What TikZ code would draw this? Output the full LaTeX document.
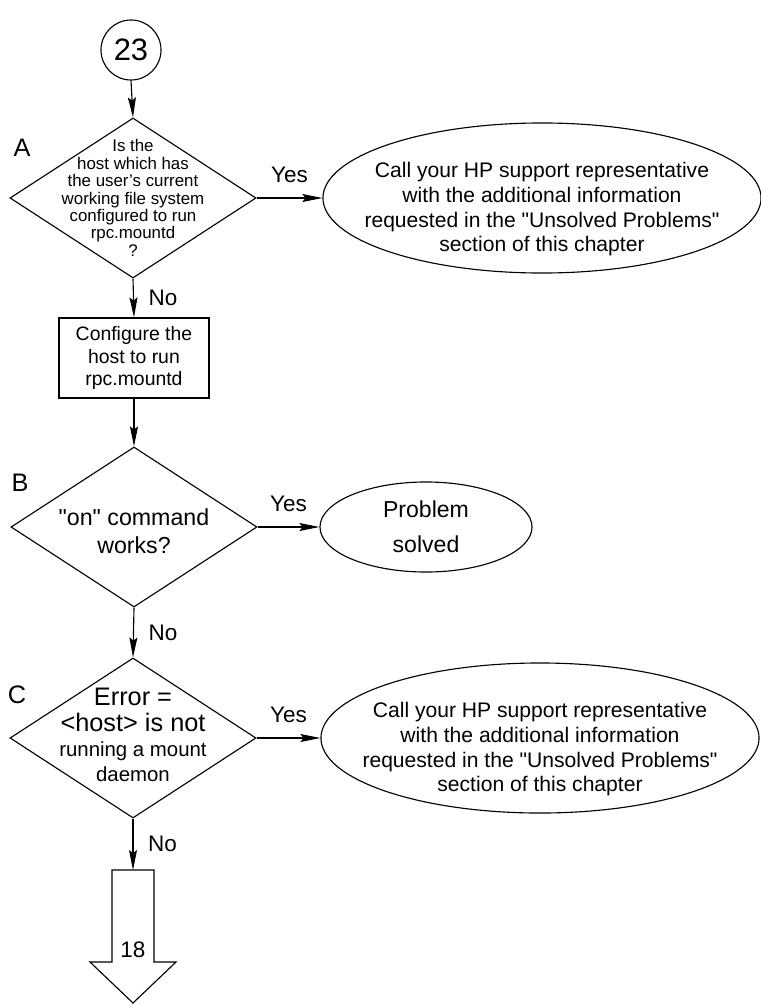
\documentclass[tikz,border=0pt]{standalone}
\usepackage{fontspec}
\setmainfont{Liberation Sans}
\usetikzlibrary{shapes.geometric,arrows.meta}

\begin{document}
\begin{tikzpicture}[x=0.025cm,y=-0.025cm,line width=0.8pt,
    flow/.style={-{Stealth[length=0.5cm,width=0.2cm,inset=0.08cm]}},
    decision/.style={draw,diamond,minimum width=6.15cm,minimum height=4cm,inner sep=0pt},
    answer/.style={draw,ellipse,inner sep=0pt},
    tag/.style={font=\fontsize{16}{18}\selectfont},
    letter/.style={font=\fontsize{18}{20}\selectfont}
    ]
    \useasboundingbox (0,0) rectangle (761,1005);

    % entry point
    \node[draw,circle,minimum size=1.5cm,inner sep=0pt,font=\fontsize{22}{24}\selectfont] (c23) at (131,50) {23};

    % step A
    \node[decision] (qA) at (133,198) {};
    \node[align=center,font=\fontsize{12}{12.4}\selectfont] (tA) at (qA) {Is the\\host which has\\the user's current\\working file system\\configured to run\\rpc.mountd\\?};
    \node[letter] (lA) at (22,148) {A};
    \node[answer,minimum width=10.95cm,minimum height=3.75cm] (callA) at (542,198) {};
    \node[align=center,font=\fontsize{15}{17.5}\selectfont,yshift=-8pt] (tcallA) at (callA) {Call your HP support representative\\with the additional information\\requested in the \textquotedbl Unsolved Problems\textquotedbl\\section of this chapter};
    \draw[flow] (c23.south) -- (qA.north);
    \draw[flow] (qA.east) -- node[tag,above=7pt] (yA) {Yes} (callA.west);

    \node[draw,minimum width=3.75cm,minimum height=2cm,align=center,font=\fontsize{13.8}{16.3}\selectfont] (fix) at (134,358) {Configure the\\host to run\\rpc.mountd};
    \draw[flow] (qA.south) -- node[tag,right=7pt] (nA) {No} (fix.north);

    % step B
    \node[decision] (qB) at (134,527) {};
    \node[align=center,font=\fontsize{16.5}{20.5}\selectfont,yshift=-3pt] (tB) at (qB) {\textquotedbl on\textquotedbl{} command\\works?};
    \node[letter] (lB) at (20,483) {B};
    \node[answer,minimum width=5.3cm,minimum height=2.25cm,align=center,font=\fontsize{16.4}{24.8}\selectfont] (solved) at (426,527) {Problem\\solved};
    \draw[flow] (fix.south) -- (qB.north);
    \draw[flow] (qB.east) -- node[tag,above=7pt] (yB) {Yes} (solved.west);

    % step C
    \node[decision] (qC) at (133,738) {};
    \node[align=center,font=\fontsize{14.5}{18}\selectfont,yshift=2pt] (tC) at (qC) {{\fontsize{18}{18}\selectfont Error =}\\{\fontsize{18}{18}\selectfont <host> is not}\\running a mount\\daemon};
    \node[letter] (lC) at (17,695) {C};
    \node[answer,minimum width=10.95cm,minimum height=3.75cm] (callC) at (540,738) {};
    \node[align=center,font=\fontsize{15}{17.5}\selectfont,yshift=-8pt] (tcallC) at (callC) {Call your HP support representative\\with the additional information\\requested in the \textquotedbl Unsolved Problems\textquotedbl\\section of this chapter};
    \draw[flow] (qB.south) -- node[tag,right=7pt] (nB) {No} (qC.north);
    \draw[flow] (qC.east) -- node[tag,above=7pt] (yC) {Yes} (callC.west);

    % off-page arrow to 18
    \coordinate (to18) at (133,870);
    \draw[flow] (qC.south) -- node[tag,right=7pt] (nC) {No} (to18);
    \draw (112,870) -- (154,870) -- (154,962) -- (176,962) -- (133,1003) -- (90,962) -- (112,962) -- cycle;
    \node[tag] (n18) at (133,950) {18};
\end{tikzpicture}
\end{document}
